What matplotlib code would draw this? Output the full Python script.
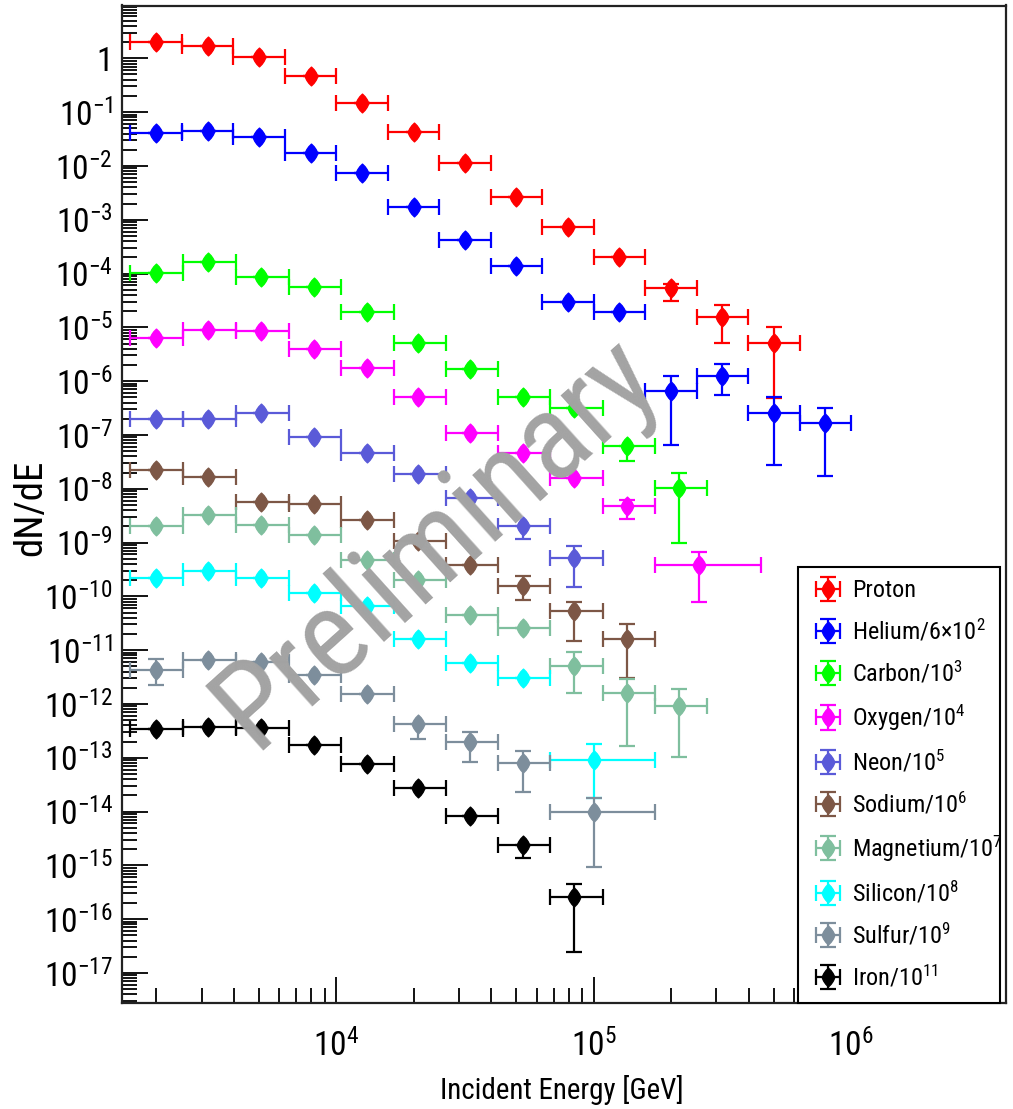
import numpy as np
import matplotlib
matplotlib.use('Agg')
import matplotlib.pyplot as plt
from matplotlib.path import Path
from matplotlib import font_manager
from matplotlib.ticker import LogLocator, FuncFormatter, NullFormatter

# ---------------- font choice (prefer a narrow sans, like the ROOT output) ----------------
fam_stretch = {}
for f in font_manager.fontManager.ttflist:
    fam_stretch.setdefault(f.name, set()).add(str(f.stretch))
NARROW, STRETCH = None, 'normal'
for n in ['Liberation Sans Narrow', 'Arial Narrow', 'Roboto Condensed', 'Open Sans Condensed',
          'Noto Sans Condensed', 'DejaVu Sans Condensed']:
    if n in fam_stretch:
        NARROW = n
        break
if NARROW is None:
    cond = {'condensed', 'semi-condensed', 'extra-condensed', 'ultra-condensed'}
    for n in ['Liberation Sans', 'Noto Sans', 'Open Sans', 'Roboto', 'DejaVu Sans']:
        if n in fam_stretch and (fam_stretch[n] & cond):
            NARROW, STRETCH = n, 'condensed'
            break
if NARROW is None:
    NARROW = 'Liberation Sans'

plt.rcParams['font.family'] = [NARROW, 'DejaVu Sans']
plt.rcParams['font.stretch'] = STRETCH
spec = NARROW if STRETCH == 'normal' else NARROW + ':stretch=' + STRETCH
plt.rcParams['mathtext.fontset'] = 'custom'
plt.rcParams['mathtext.rm'] = spec
plt.rcParams['mathtext.it'] = spec
plt.rcParams['mathtext.bf'] = spec
plt.rcParams['mathtext.sf'] = spec
plt.rcParams['mathtext.default'] = 'rm'

# ---------------- data ----------------
# energy bin edges, log10(E/GeV)
LIGHT_EDGES = [3.2, 3.4, 3.6, 3.8, 4.0, 4.2, 4.4, 4.6, 4.8, 5.0, 5.2, 5.4, 5.6, 5.8, 6.0]
HEAVY_EDGES = [3.2, 3.405, 3.61, 3.815, 4.02, 4.225, 4.425, 4.63, 4.83, 5.035, 5.24, 5.44, 5.65]

proton_logE = [3.3, 3.5, 3.7, 3.9, 4.1, 4.3, 4.5, 4.7, 4.9, 5.1, 5.3, 5.5, 5.7]
proton_bins = [(0, 1), (1, 2), (2, 3), (3, 4), (4, 5), (5, 6), (6, 7), (7, 8), (8, 9), (9, 10), (10, 11), (11, 12), (12, 13)]
proton_y = [2.04, 1.71, 1.07, 0.469, 0.150, 0.0433, 0.0112, 2.68e-3, 7.4e-4, 2.0e-4, 5.3e-5, 1.58e-5, 5.2e-6]
proton_ylo = [None, None, None, None, None, None, None, None, None, None, 3.1e-5, 5.1e-6, 4.9e-7]
proton_yhi = [None, None, None, None, None, None, None, None, None, None, 6.5e-5, 2.6e-5, 1.0e-5]

helium_logE = [3.3, 3.5, 3.7, 3.9, 4.1, 4.3, 4.5, 4.7, 4.9, 5.1, 5.3, 5.5, 5.7, 5.9]
helium_bins = [(0, 1), (1, 2), (2, 3), (3, 4), (4, 5), (5, 6), (6, 7), (7, 8), (8, 9), (9, 10), (10, 11), (11, 12), (12, 13), (13, 14)]
helium_y = [0.0414, 0.0451, 0.0349, 0.0176, 7.5e-3, 1.75e-3, 4.2e-4, 1.40e-4, 2.9e-5, 1.95e-5, 6.6e-7, 1.26e-6, 2.6e-7, 1.66e-7]
helium_ylo = [None, None, None, None, None, None, None, None, None, None, 6.5e-8, 5.5e-7, 2.75e-8, 1.74e-8]
helium_yhi = [None, None, None, None, None, None, None, None, None, None, 1.26e-6, 2.1e-6, 5.0e-7, 3.2e-7]

carbon_logE = [3.3, 3.5, 3.707, 3.913, 4.12, 4.316, 4.521, 4.726, 4.922, 5.128, 5.33]
carbon_bins = [(0, 1), (1, 2), (2, 3), (3, 4), (4, 5), (5, 6), (6, 7), (7, 8), (8, 9), (9, 10), (10, 11)]
carbon_y = [1.04e-4, 1.66e-4, 8.7e-5, 5.5e-5, 1.95e-5, 5.2e-6, 1.66e-6, 5.0e-7, 3.1e-7, 6.3e-8, 1.02e-8]
carbon_ylo = [None, None, None, None, None, None, None, None, None, 3.3e-8, 9.8e-10]
carbon_yhi = [None, None, None, None, None, None, None, None, None, None, 1.95e-8]

oxygen_logE = [3.3, 3.5, 3.707, 3.913, 4.12, 4.316, 4.521, 4.726, 4.922, 5.128, 5.41]
oxygen_bins = [(0, 1), (1, 2), (2, 3), (3, 4), (4, 5), (5, 6), (6, 7), (7, 8), (8, 9), (9, 10), (10, 12)]
oxygen_y = [6.3e-6, 9.1e-6, 8.5e-6, 4.0e-6, 1.74e-6, 5.0e-7, 1.07e-7, 4.6e-8, 1.55e-8, 4.7e-9, 3.8e-10]
oxygen_ylo = [None, None, None, None, None, None, None, None, None, 2.7e-9, 7.8e-11]
oxygen_yhi = [None, None, None, None, None, None, None, None, None, 6.2e-9, 6.6e-10]

neon_logE = [3.3, 3.5, 3.707, 3.913, 4.12, 4.316, 4.521, 4.726, 4.922]
neon_bins = [(0, 1), (1, 2), (2, 3), (3, 4), (4, 5), (5, 6), (6, 7), (7, 8), (8, 9)]
neon_y = [1.95e-7, 1.95e-7, 2.57e-7, 9.0e-8, 4.6e-8, 1.86e-8, 6.6e-9, 2.04e-9, 5.1e-10]
neon_ylo = [None, None, None, None, None, None, None, 1.15e-9, 1.5e-10]
neon_yhi = [None, None, None, None, None, None, None, None, 8.7e-10]

sodium_logE = [3.3, 3.5, 3.707, 3.913, 4.12, 4.316, 4.521, 4.726, 4.922, 5.128]
sodium_bins = [(0, 1), (1, 2), (2, 3), (3, 4), (4, 5), (5, 6), (6, 7), (7, 8), (8, 9), (9, 10)]
sodium_y = [2.24e-8, 1.66e-8, 5.75e-9, 5.25e-9, 2.63e-9, 1.05e-9, 3.8e-10, 1.58e-10, 5.4e-11, 1.58e-11]
sodium_ylo = [None, None, None, None, None, None, None, 8.5e-11, 1.45e-11, 3.0e-12]
sodium_yhi = [None, None, None, None, None, None, None, 2.4e-10, 7.9e-11, 3.1e-11]

magnesium_logE = [3.3, 3.5, 3.707, 3.913, 4.12, 4.316, 4.521, 4.726, 4.922, 5.128, 5.33]
magnesium_bins = [(0, 1), (1, 2), (2, 3), (3, 4), (4, 5), (5, 6), (6, 7), (7, 8), (8, 9), (9, 10), (10, 11)]
magnesium_y = [2.04e-9, 3.2e-9, 2.14e-9, 1.38e-9, 4.7e-10, 2.0e-10, 4.5e-11, 2.57e-11, 5.1e-12, 1.62e-12, 9.3e-13]
magnesium_ylo = [None, None, None, None, None, None, None, None, 1.58e-12, 1.62e-13, 1.02e-13]
magnesium_yhi = [None, None, None, None, None, None, None, None, 9.1e-12, 2.9e-12, 1.86e-12]

silicon_logE = [3.3, 3.5, 3.707, 3.913, 4.12, 4.316, 4.521, 4.726, 5.0]
silicon_bins = [(0, 1), (1, 2), (2, 3), (3, 4), (4, 5), (5, 6), (6, 7), (7, 8), (8, 10)]
silicon_y = [2.16e-10, 2.9e-10, 2.16e-10, 1.17e-10, 6.6e-11, 1.58e-11, 5.7e-12, 3.0e-12, 9.1e-14]
silicon_ylo = [None, None, None, None, None, None, None, None, 1.8e-14]
silicon_yhi = [None, None, None, None, None, None, None, None, 1.8e-13]

sulfur_logE = [3.3, 3.5, 3.707, 3.913, 4.12, 4.316, 4.521, 4.726, 5.0]
sulfur_bins = [(0, 1), (1, 2), (2, 3), (3, 4), (4, 5), (5, 6), (6, 7), (7, 8), (8, 10)]
sulfur_y = [4.3e-12, 6.6e-12, 6.1e-12, 3.5e-12, 1.51e-12, 4.3e-13, 2.0e-13, 7.9e-14, 9.8e-15]
sulfur_ylo = [2.24e-12, None, None, None, None, 2.2e-13, 8.5e-14, 2.3e-14, 9.5e-16]
sulfur_yhi = [6.8e-12, None, None, None, None, None, 3.0e-13, 1.32e-13, 1.82e-14]

iron_logE = [3.3, 3.5, 3.707, 3.913, 4.12, 4.316, 4.521, 4.726, 4.922]
iron_bins = [(0, 1), (1, 2), (2, 3), (3, 4), (4, 5), (5, 6), (6, 7), (7, 8), (8, 9)]
iron_y = [3.4e-13, 3.7e-13, 3.55e-13, 1.74e-13, 7.6e-14, 2.7e-14, 8.1e-15, 2.4e-15, 2.6e-16]
iron_ylo = [None, None, None, None, None, None, None, 1.38e-15, 2.45e-17]
iron_yhi = [None, None, None, None, None, None, None, None, 4.5e-16]

labels = ['Proton', 'Helium/6×10$^{2}$', 'Carbon/10$^{3}$', 'Oxygen/10$^{4}$', 'Neon/10$^{5}$',
          'Sodium/10$^{6}$', 'Magnetium/10$^{7}$', 'Silicon/10$^{8}$', 'Sulfur/10$^{9}$', 'Iron/10$^{11}$']
colors = ['#ff0000', '#0000ff', '#00ff00', '#ff00ff', '#5a5ad8', '#7d5746', '#7fbf9e', '#00ffff', '#7d8e9c', '#000000']

series = [
    (LIGHT_EDGES, proton_logE, proton_bins, proton_y, proton_ylo, proton_yhi),
    (LIGHT_EDGES, helium_logE, helium_bins, helium_y, helium_ylo, helium_yhi),
    (HEAVY_EDGES, carbon_logE, carbon_bins, carbon_y, carbon_ylo, carbon_yhi),
    (HEAVY_EDGES, oxygen_logE, oxygen_bins, oxygen_y, oxygen_ylo, oxygen_yhi),
    (HEAVY_EDGES, neon_logE, neon_bins, neon_y, neon_ylo, neon_yhi),
    (HEAVY_EDGES, sodium_logE, sodium_bins, sodium_y, sodium_ylo, sodium_yhi),
    (HEAVY_EDGES, magnesium_logE, magnesium_bins, magnesium_y, magnesium_ylo, magnesium_yhi),
    (HEAVY_EDGES, silicon_logE, silicon_bins, silicon_y, silicon_ylo, silicon_yhi),
    (HEAVY_EDGES, sulfur_logE, sulfur_bins, sulfur_y, sulfur_ylo, sulfur_yhi),
    (HEAVY_EDGES, iron_logE, iron_bins, iron_y, iron_ylo, iron_yhi),
]

# ---------------- figure ----------------
W, H = 1013, 1109
AX_L, AX_R, AX_T, AX_B = 122, 1006, 5.5, 1003
fig = plt.figure(figsize=(W / 100, H / 100), dpi=100)
ax = fig.add_axes([AX_L / W, (H - AX_B) / H, (AX_R - AX_L) / W, (AX_B - AX_T) / H])
ax.set_xscale('log')
ax.set_yscale('log')

fig.canvas.draw()
R = fig.canvas.get_renderer()


def size_for(text, target_w, base=20, **kw):
    t = fig.text(0, 0, text, fontsize=base, **kw)
    w = t.get_window_extent(R).width
    t.remove()
    return base * target_w / w


# elongated, rounded diamond marker (ROOT marker look)
diamond = Path([(0, 1), (0.28, 0.72), (0.5, 0.4), (0.64, 0.1), (0.64, -0.1), (0.5, -0.4),
                (0.28, -0.72), (0, -1), (-0.28, -0.72), (-0.5, -0.4), (-0.64, -0.1),
                (-0.64, 0.1), (-0.5, 0.4), (-0.28, 0.72), (0, 1)], closed=True)

handles = []
for (edges, logE, bins, y, ylo, yhi), col in zip(series, colors):
    E = 10 ** np.array(logE)
    lo = np.array([10 ** edges[b[0]] for b in bins])
    hi = np.array([10 ** edges[b[1]] for b in bins])
    yv = np.array(y, dtype=float)
    yl = np.array([v if v is not None else yy for v, yy in zip(ylo, y)], dtype=float)
    yh = np.array([v if v is not None else yy for v, yy in zip(yhi, y)], dtype=float)
    h = ax.errorbar(E, yv, xerr=[E - lo, hi - E], yerr=[yv - yl, yh - yv],
                    linestyle='none', marker=diamond, markersize=13.5, color=col,
                    mec=col, ecolor=col, elinewidth=1.6, capsize=5.5,
                    capthick=1.6, zorder=3)
    handles.append(h)

ax.set_xlim(1470, 4.0e6)
ax.set_ylim(2.76e-18, 9.58)

# ticks
ax.xaxis.set_major_locator(LogLocator(base=10, numticks=50))
ax.xaxis.set_minor_locator(LogLocator(base=10, subs=np.arange(2, 10), numticks=50))
ax.yaxis.set_major_locator(LogLocator(base=10, numticks=60))
ax.yaxis.set_minor_locator(LogLocator(base=10, subs=np.arange(2, 10), numticks=60))


def fmt(v, pos):
    e = int(round(np.log10(v)))
    if e == 0:
        return '1'
    return r'$10^{%d}$' % e


ax.xaxis.set_major_formatter(FuncFormatter(fmt))
ax.yaxis.set_major_formatter(FuncFormatter(fmt))
ax.xaxis.set_minor_formatter(NullFormatter())
ax.yaxis.set_minor_formatter(NullFormatter())

tick_fs = min(size_for(r'$10^{-17}$', 76), 24)
ax.tick_params(which='both', direction='in', top=False, right=False, color='black')
ax.tick_params(which='major', length=19, width=1.3)
ax.tick_params(which='minor', length=10.5, width=1.3)
ax.tick_params(axis='y', which='major', labelsize=tick_fs, pad=6.5)
ax.tick_params(axis='x', which='major', labelsize=tick_fs, pad=19)

for s in ax.spines.values():
    s.set_linewidth(1.6)
    s.set_color('#222222')

xl_fs = min(size_for('Incident Energy [GeV]', 243), 26)
ax.set_xlabel('Incident Energy [GeV]', fontsize=xl_fs)
ax.xaxis.set_label_coords(0.497, -0.072)
yl_fs = min(size_for('dN/dE', 100), 28)
ax.set_ylabel('dN/dE', fontsize=yl_fs)
ax.yaxis.set_label_coords(-0.082, 0.496)

# watermark
wm_fs = size_for('Preliminary', 548)
ax.text(0.356, 0.462, 'Preliminary', transform=ax.transAxes, rotation=42,
        rotation_mode='anchor', ha='center', va='center', fontsize=wm_fs,
        color='#a3a3a3', zorder=10)

# legend
leg_fs = min(size_for('Helium/6×10$^{2}$', 139), size_for('Magnetium/10$^{7}$', 150), 22)
fs_px = leg_fs * 100 / 72
LEG_L, LEG_R, LEG_T, LEG_B = 798, 1000, 567, 1003
anchor = ((LEG_L - AX_L) / (AX_R - AX_L), (AX_B - LEG_B) / (AX_B - AX_T),
          (LEG_R - LEG_L) / (AX_R - AX_L), (LEG_B - LEG_T) / (AX_B - AX_T))


def make_legend(lsp, bpad):
    lg = ax.legend(handles, labels, loc='upper left', bbox_to_anchor=anchor, mode='expand',
                   borderaxespad=0, fontsize=leg_fs, frameon=True, fancybox=False,
                   edgecolor='black', framealpha=1, labelspacing=lsp,
                   handlelength=35 / fs_px, handletextpad=6.5 / fs_px, borderpad=bpad)
    lg.get_frame().set_linewidth(1.5)
    lg.set_zorder(20)
    return lg


lsp, bpad = 0.3, 0.35
leg = make_legend(lsp, bpad)
for _ in range(3):
    fig.canvas.draw()
    tx = leg.get_texts()
    c0 = tx[0].get_window_extent(R)
    c1 = tx[-1].get_window_extent(R)
    spacing = ((c0.y0 + c0.y1) / 2 - (c1.y0 + c1.y1) / 2) / 9
    lsp = max(0.0, lsp + (43 - spacing) / fs_px)
    leg.remove()
    leg = make_legend(lsp, bpad)
    fig.canvas.draw()
    hgt = leg.get_window_extent(R).height
    bpad = max(0.05, bpad + (436 - hgt) / 2 / fs_px)
    leg.remove()
    leg = make_legend(lsp, bpad)

fig.savefig('out.png', dpi=100)
